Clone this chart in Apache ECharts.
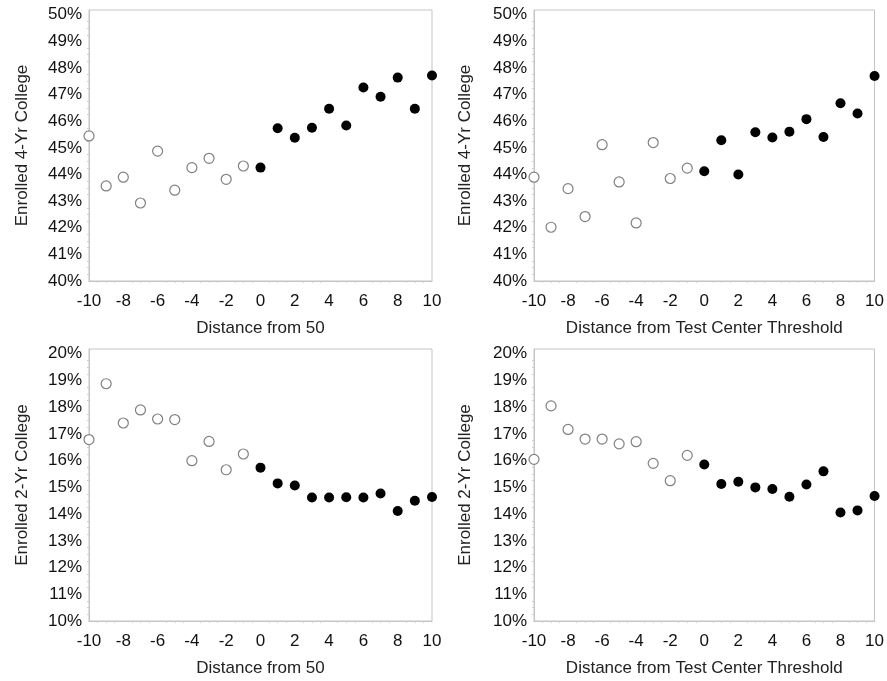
<!DOCTYPE html>
<html>
<head>
<meta charset="utf-8">
<script src="https://cdn.jsdelivr.net/npm/echarts@6/dist/echarts.min.js"></script>
<style>
html,body{margin:0;padding:0;background:#fff;}
#c{width:887px;height:681px;}
</style>
</head>
<body>
<div id="c"></div>
<script>
// ---- data ----
const distances = [-10,-9,-8,-7,-6,-5,-4,-3,-2,-1,0,1,2,3,4,5,6,7,8,9,10];
const xTicks = [-10,-8,-6,-4,-2,0,2,4,6,8,10];
const fourYr_from50 = [45.45,43.57,43.90,42.93,44.88,43.41,44.26,44.61,43.82,44.32,44.26,45.74,45.38,45.76,46.47,45.84,47.27,46.92,47.64,46.47,47.72];
const fourYr_testCenter = [43.90,42.02,43.47,42.42,45.12,43.72,42.18,45.20,43.85,44.24,44.12,45.29,44.00,45.59,45.39,45.61,46.08,45.41,46.68,46.29,47.70];
const twoYr_from50 = [16.79,18.88,17.41,17.90,17.56,17.54,16.00,16.72,15.66,16.25,15.74,15.15,15.07,14.62,14.62,14.63,14.62,14.77,14.12,14.50,14.64];
const twoYr_testCenter = [16.05,18.05,17.17,16.81,16.81,16.63,16.71,15.90,15.25,16.20,15.86,15.13,15.21,15.00,14.94,14.65,15.11,15.60,14.06,14.14,14.68];
const xNames = ["Distance from 50","Distance from Test Center Threshold","Distance from 50","Distance from Test Center Threshold"];
const yNames = ["Enrolled 4-Yr College","Enrolled 4-Yr College","Enrolled 2-Yr College","Enrolled 2-Yr College"];
const yRanges = [[40,50],[40,50],[10,20],[10,20]];
const panelData = [fourYr_from50, fourYr_testCenter, twoYr_from50, twoYr_testCenter];

// ---- layout ----
const grids = [
  {left:89, top:10, width:343, height:271},
  {left:534, top:10, width:342, height:271},
  {left:89, top:349, width:343, height:272},
  {left:534, top:349, width:342, height:272}
];
const font = "'Liberation Sans', Arial, sans-serif";
const chart = echarts.init(document.getElementById('c'));
const option = {
  animation:false,
  backgroundColor:'#fff',
  grid: grids.map(g => Object.assign({show:true, borderColor:'#c4c4c4', borderWidth:1, containLabel:false}, g)),
  xAxis: grids.map((g,i) => ({
    gridIndex:i, type:'value', min:-10, max:10, interval:2,
    name:xNames[i], nameLocation:'middle', nameGap:39,
    nameTextStyle:{fontFamily:font, fontSize:17, color:'#222'},
    axisLine:{show:true, onZero:false, lineStyle:{color:'#c4c4c4'}},
    axisTick:{show:false},
    minorTick:{show:true, splitNumber:4, length:2, lineStyle:{color:'#cfcfcf'}},
    splitLine:{show:false},
    axisLabel:{fontFamily:font, fontSize:17, color:'#111', margin:12,
      formatter: v => xTicks.indexOf(v) >= 0 ? String(v) : ''}
  })),
  yAxis: grids.map((g,i) => {
    const lo = yRanges[i][0], hi = yRanges[i][1];
    return {
      gridIndex:i, type:'value', min:lo, max:hi + 0.18, interval:1,
      name:yNames[i], nameLocation:'middle', nameGap:(i%2===0?58:60),
      nameTextStyle:{fontFamily:font, fontSize:17, color:'#222'},
      axisLine:{show:true, onZero:false, lineStyle:{color:'#c4c4c4'}},
      axisTick:{show:false},
      minorTick:{show:true, splitNumber:4, length:2, lineStyle:{color:'#cfcfcf'}},
      splitLine:{show:false},
      axisLabel:{fontFamily:font, fontSize:17, color:'#111', margin:7, showMaxLabel:false,
        formatter: v => (Math.abs(v - Math.round(v)) < 1e-6 && v <= hi) ? Math.round(v) + '%' : ''}
    };
  }),
  series: []
};
panelData.forEach((vals,i) => {
  const below = [], above = [];
  distances.forEach((d,k) => { (d < 0 ? below : above).push([d, vals[k]]); });
  option.series.push({
    type:'scatter', xAxisIndex:i, yAxisIndex:i, data:below, symbol:'circle', symbolSize:10,
    itemStyle:{color:'#fff', borderColor:'#808080', borderWidth:1.2, opacity:1}
  });
  option.series.push({
    type:'scatter', xAxisIndex:i, yAxisIndex:i, data:above, symbol:'circle', symbolSize:10,
    itemStyle:{color:'#000', opacity:1}
  });
});
chart.setOption(option);
</script>
</body>
</html>
